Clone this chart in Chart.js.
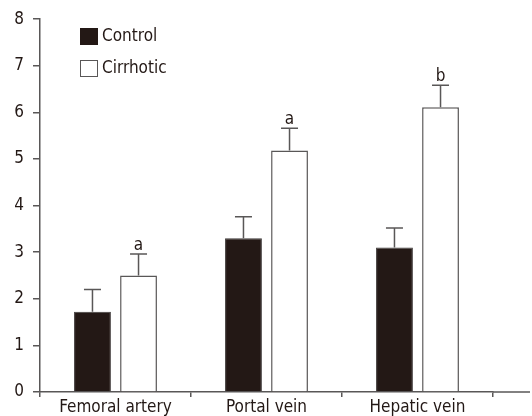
<!DOCTYPE html>
<html>
<head>
<meta charset="utf-8">
<script src="https://cdn.jsdelivr.net/npm/chart.js@4/dist/chart.umd.min.js"></script>
<style>
  html, body { margin: 0; padding: 0; background: #fff; }
  #wrap { width: 532px; height: 416px; }
</style>
</head>
<body>
<div id="wrap"><canvas id="chart"></canvas></div>
<script>
/* ===================== DATA ===================== */

const categories = ["Femoral artery", "Portal vein", "Hepatic vein"];
const controlValues = [1.72, 3.30, 3.10];
const controlErr = [0.48, 0.46, 0.42];
const cirrhoticValues = [2.50, 5.18, 6.11];
const cirrhoticErr = [0.46, 0.48, 0.47];
const sigLabels = ["a", "a", "b"];
const yTicks = [0, 1, 2, 3, 4, 5, 6, 7, 8];

/* ===================== STYLE ===================== */

const FONT = "'DejaVu Sans Condensed', 'DejaVu Sans', sans-serif";
const INK = "#231815";
const LINE = "#595757";

/* ===================== PLUGINS ===================== */

// up-only error bars with caps, plus significance letters
const errorBars = {
  id: "errorBars",
  afterDatasetsDraw(chart) {
    const ctx = chart.ctx;
    const y = chart.scales.y;
    const errs = [controlErr, cirrhoticErr];
    ctx.save();
    ctx.strokeStyle = LINE;
    ctx.lineWidth = 1.5;
    chart.data.datasets.forEach((ds, di) => {
      chart.getDatasetMeta(di).data.forEach((bar, i) => {
        const top = y.getPixelForValue(ds.data[i] + errs[di][i]);
        ctx.beginPath();
        ctx.moveTo(bar.x, bar.y);
        ctx.lineTo(bar.x, top);
        ctx.moveTo(bar.x - 8.5, top);
        ctx.lineTo(bar.x + 8.5, top);
        ctx.stroke();
        if (di === 1 && sigLabels[i]) {
          ctx.fillStyle = INK;
          ctx.font = "17px " + FONT;
          ctx.textAlign = "center";
          ctx.textBaseline = "alphabetic";
          ctx.fillText(sigLabels[i], bar.x, top - 4);
        }
      });
    });
    ctx.restore();
  }
};

// legend boxes inside the plot + x axis line running on past the last category
const extras = {
  id: "extras",
  afterDraw(chart) {
    const ctx = chart.ctx;
    const a = chart.chartArea;
    ctx.save();
    ctx.strokeStyle = LINE;
    ctx.lineWidth = 1.5;
    ctx.beginPath();
    ctx.moveTo(a.right, a.bottom);
    ctx.lineTo(chart.width - 2, a.bottom);
    ctx.stroke();

    chart.data.datasets.forEach((ds, i) => {
      const bx = 80.5, by = 28.5 + i * 32;
      ctx.fillStyle = ds.backgroundColor;
      ctx.fillRect(bx, by, 17, 16);
      ctx.lineWidth = 1;
      ctx.strokeStyle = i === 0 ? INK : LINE;
      ctx.strokeRect(bx, by, 17, 16);
      ctx.fillStyle = INK;
      ctx.font = "17px " + FONT;
      ctx.textAlign = "left";
      ctx.textBaseline = "middle";
      ctx.fillText(ds.label, 102, by + 8);
    });
    ctx.restore();
  }
};

/* ===================== CHART ===================== */

new Chart(document.getElementById("chart"), {
  type: "bar",
  data: {
    labels: categories,
    datasets: [
      {
        label: "Control",
        data: controlValues,
        backgroundColor: INK,
        borderColor: "#3e3a39",
        borderWidth: 1,
        barPercentage: 0.8,
        categoryPercentage: 0.61
      },
      {
        label: "Cirrhotic",
        data: cirrhoticValues,
        backgroundColor: "#ffffff",
        borderColor: LINE,
        borderWidth: 1.5,
        barPercentage: 0.8,
        categoryPercentage: 0.61
      }
    ]
  },
  options: {
    responsive: true,
    maintainAspectRatio: false,
    animation: false,
    layout: { padding: { top: 15, right: 39, left: 0, bottom: 0 } },
    plugins: {
      legend: { display: false },
      tooltip: { enabled: false }
    },
    scales: {
      x: {
        offset: true,
        grid: { display: true, offset: true, drawOnChartArea: false, drawTicks: true, tickLength: 5, color: LINE, lineWidth: 1.5 },
        border: { display: true, color: LINE, width: 1.5 },
        ticks: { color: INK, padding: 2, maxRotation: 0, font: { family: FONT, size: 17, lineHeight: 1 } },
        afterFit: s => { s.height = 24; }
      },
      y: {
        min: yTicks[0],
        max: yTicks[yTicks.length - 1],
        afterBuildTicks: s => { s.ticks = yTicks.map(v => ({ value: v })); },
        grid: { drawOnChartArea: false, drawTicks: true, tickLength: 7, color: LINE, lineWidth: 1.5 },
        border: { display: true, color: LINE, width: 1.5 },
        ticks: { color: INK, padding: 9, font: { family: FONT, size: 17 } },
        afterFit: s => { s.width = 40; }
      }
    }
  },
  plugins: [errorBars, extras]
});
</script>
</body>
</html>
